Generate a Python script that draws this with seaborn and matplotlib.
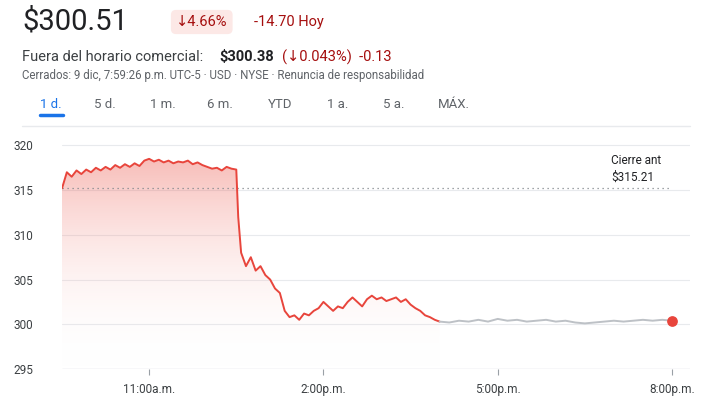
import numpy as np
import matplotlib
matplotlib.use("Agg")
import matplotlib.pyplot as plt
import seaborn as sns
from matplotlib.patches import Polygon

sns.set_style("white")
plt.rcParams['font.family'] = ['Roboto', 'DejaVu Sans']

# --- DATA --- minutes after 9:30 a.m.
red_t = [0, 5, 10, 15, 20, 25, 30, 35, 40, 45, 50, 55, 60, 65, 70, 75, 80, 85, 90, 95,
         100, 105, 110, 115, 120, 125, 130, 135, 140, 145, 150, 155, 160, 165, 170, 175, 180,
         182, 185, 190, 195, 200, 205, 210, 215, 220, 225, 230, 235, 240, 245, 250, 255, 260,
         265, 270, 275, 280, 285, 290, 295, 300, 305, 310, 315, 320, 325, 330, 335, 340, 345,
         350, 355, 360, 365, 370, 375, 380, 385, 390]
red_v = [315.2, 317.0, 316.5, 317.2, 316.8, 317.3, 317.0, 317.5, 317.2, 317.6, 317.3, 317.8,
         317.5, 317.9, 317.6, 318.0, 317.7, 318.3, 318.5, 318.2, 318.4, 318.1, 318.3, 318.0,
         318.2, 318.1, 318.3, 317.9, 318.1, 317.8, 317.6, 317.4, 317.5, 317.2, 317.6, 317.4,
         317.3, 312.0, 308.0, 306.5, 307.5, 306.0, 306.5, 305.5, 305.0, 304.0, 303.5, 301.5,
         300.8, 301.0, 300.5, 301.2, 301.0, 301.5, 301.8, 302.5, 302.0, 301.5, 302.0, 301.8,
         302.5, 303.0, 302.5, 302.0, 302.8, 303.2, 302.8, 303.0, 302.6, 302.8, 303.0, 302.5,
         302.8, 302.2, 301.8, 301.5, 301.0, 300.8, 300.5, 300.3]
grey_t = list(range(390, 640, 10))
grey_v = [300.3, 300.2, 300.4, 300.3, 300.5, 300.3, 300.6, 300.4, 300.5, 300.3, 300.4, 300.5,
          300.3, 300.4, 300.2, 300.1, 300.2, 300.3, 300.4, 300.3, 300.4, 300.5, 300.4, 300.5,
          300.4]
prev_close = 315.21
tick_pos = [90, 270, 450, 630]
tick_labels = ["11:00a.m.", "2:00p.m.", "5:00p.m.", "8:00p.m."]
y_ticks = [295, 300, 305, 310, 315, 320]
tabs = ["1 d.", "5 d.", "1 m.", "6 m.", "YTD", "1 a.", "5 a.", "MÁX."]
tab_x = [40, 94, 150, 207, 268, 327, 383, 438]

fig = plt.figure(figsize=(7.09, 4.11), dpi=100)
W, H = 709, 411
def fx(x): return x / W
def fy(y): return 1 - y / H

# --- HEADER ---
fig.text(fx(22), fy(22), "$300.51", fontsize=21, color="#202124", va="center")
fig.text(fx(176), fy(22), "↓4.66%", fontsize=10.5, color="#a50e0e", va="center",
         bbox=dict(boxstyle="round,pad=0.35", fc="#fce8e6", ec="none"))
fig.text(fx(254), fy(22), "-14.70 Hoy", fontsize=10.5, color="#a50e0e", va="center")
fig.text(fx(22), fy(57), "Fuera del horario comercial:", fontsize=10.5, color="#3c4043", va="center")
fig.text(fx(219), fy(57), "$300.38", fontsize=10.5, color="#202124", va="center", weight="bold")
fig.text(fx(282), fy(57), "(↓0.043%)  -0.13", fontsize=10.5, color="#a50e0e", va="center")
fig.text(fx(22), fy(76), "Cerrados: 9 dic, 7:59:26 p.m. UTC-5 · USD · NYSE · Renuncia de responsabilidad",
         fontsize=8.3, color="#5f6368", va="center")
for x, lab in zip(tab_x, tabs):
    fig.text(fx(x), fy(104), lab, fontsize=9.5, color="#1a73e8" if lab == "1 d." else "#5f6368", va="center")
fig.add_artist(plt.Line2D([fx(40), fx(63)], [fy(115), fy(115)], color="#1a73e8", lw=2.5))
fig.add_artist(plt.Line2D([fx(22), fx(690)], [fy(126), fy(126)], color="#e8eaed", lw=1))

# --- CHART ---
ax = fig.add_axes([fx(62), fy(369), fx(690 - 62), fy(132) - fy(369)])
xmax = (690 - 62) / (672 - 62) * 630
ax.set_xlim(0, xmax)
ax.set_ylim(295, 321.5)
for y in y_ticks:
    ax.axhline(y, color="#e8eaed", lw=0.8, zorder=0)
ax.axhline(295, color="#9aa0a6", lw=0.8, zorder=1)

# gradient fill under red line
grad = np.linspace(0, 1, 256).reshape(-1, 1)
cmap = matplotlib.colors.LinearSegmentedColormap.from_list(
    "g", [(1, 1, 1, 0), (0.92, 0.26, 0.21, 0.35)])
im = ax.imshow(grad, cmap=cmap, aspect="auto", origin="lower",
               extent=[0, red_t[-1], 295, 318.5], zorder=1)
poly = Polygon(list(zip(red_t, red_v)) + [(red_t[-1], 295), (0, 295)], closed=True,
               transform=ax.transData, fc="none", ec="none")
ax.add_patch(poly)
im.set_clip_path(poly)

sns.lineplot(x=red_t, y=red_v, ax=ax, color="#e8453c", lw=1.4, zorder=3)
sns.lineplot(x=grey_t, y=grey_v, ax=ax, color="#bdc1c6", lw=1.4, zorder=3)
ax.scatter([grey_t[-1]], [grey_v[-1]], s=45, color="#e8453c", zorder=4)
ax.plot([0, 630], [prev_close, prev_close], ls=(0, (1, 3)), color="#80868b", lw=0.9, zorder=2)
ax.text(567, 317.4, "Cierre ant\n$315.21", fontsize=8.5, color="#202124",
        va="center", ha="left", linespacing=1.4)

ax.set_xticks(tick_pos)
ax.set_xticklabels(tick_labels, fontsize=8.5, color="#3c4043")
ax.set_yticks(y_ticks)
ax.set_yticklabels([str(v) for v in y_ticks], fontsize=8.5, color="#3c4043")
ax.tick_params(axis="x", length=4, color="#9aa0a6", pad=6, direction="out", bottom=True)
ax.tick_params(axis="y", length=0, pad=10)
for lab in ax.get_yticklabels():
    lab.set_horizontalalignment("left")
    lab.set_x(-0.055)
sns.despine(ax=ax, left=True, bottom=True)

fig.savefig("out.png", dpi=100)
